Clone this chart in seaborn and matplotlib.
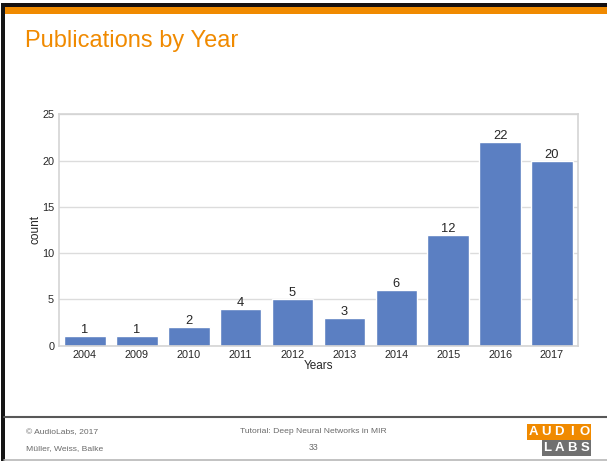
import matplotlib
matplotlib.use("Agg")
import matplotlib.pyplot as plt
from matplotlib.patches import Rectangle
from matplotlib.lines import Line2D
import seaborn as sns
import pandas as pd

# Publication counts per year
years = ["2004", "2009", "2010", "2011", "2012", "2013", "2014", "2015", "2016", "2017"]
counts = [1, 1, 2, 4, 5, 3, 6, 12, 22, 20]
y_ticks = [0, 5, 10, 15, 20, 25]

title = "Publications by Year"
footer_left = ["\u00a9 AudioLabs, 2017", "M\u00fcller, Weiss, Balke"]
footer_mid = ["Tutorial: Deep Neural Networks in MIR", "33"]

ORANGE = "#f08a00"
BAR = "#5b7fc2"

sns.set_theme(style="whitegrid")
plt.rcParams["font.family"] = ["Liberation Sans", "DejaVu Sans"]

W, H = 607, 461
fig = plt.figure(figsize=(W / 100, H / 100), dpi=100)


def fx(px):
    return px / W


def fy(py):
    return 1 - py / H


# slide frame: black rule, orange band, left border
fig.add_artist(Rectangle((fx(1.5), fy(7.3)), 1, fy(3.5) - fy(7.3),
                         transform=fig.transFigure, color="#151010", lw=0))
fig.add_artist(Rectangle((fx(1.5), fy(14)), 1, fy(7.3) - fy(14),
                         transform=fig.transFigure, color=ORANGE, lw=0))
fig.add_artist(Rectangle((fx(1.5), 0), fx(3.2), fy(3.5),
                         transform=fig.transFigure, color="#151515", lw=0))

fig.text(fx(25), fy(47.5), title, color=ORANGE, fontsize=17, va="baseline", ha="left")

# chart
ax = fig.add_axes([fx(59), fy(345.5), fx(578) - fx(59), fy(114.5) - fy(345.5)])
df = pd.DataFrame({"Years": years, "count": counts})
sns.barplot(data=df, x="Years", y="count", color=BAR, saturation=1, width=0.8, ax=ax)
ax.set_ylim(0, 25)
ax.set_yticks(y_ticks)
ax.set_xlim(-0.5, len(years) - 0.5)
ax.tick_params(axis="both", labelsize=7.8, colors="#262626", length=0)
ax.tick_params(axis="x", pad=3)
ax.tick_params(axis="y", pad=3.5)
ax.set_xlabel("Years", fontsize=8.5, color="#262626", labelpad=0)
ax.set_ylabel("count", fontsize=8.5, color="#262626", labelpad=0)
for s in ax.spines.values():
    s.set_color("#d4d4d4")
    s.set_linewidth(1.2)
ax.grid(axis="y", color="#dcdcdc", lw=1)
ax.grid(axis="x", visible=False)

for i, c in enumerate(counts):
    ax.annotate(str(c), (i, c), ha="center", va="bottom", fontsize=9.3, color="#262626")

# footer
fig.add_artist(Line2D([fx(4), 1], [fy(416.7)] * 2, transform=fig.transFigure,
                      color="#585858", lw=1.5))
fig.add_artist(Line2D([fx(4), 1], [fy(459.7)] * 2, transform=fig.transFigure,
                      color="#b8b8b8", lw=1.2))
fig.text(fx(26), fy(433), footer_left[0], fontsize=6.1, color="#6a6a6a", va="center")
fig.text(fx(26), fy(448.5), footer_left[1], fontsize=6.1, color="#6a6a6a", va="center")
fig.text(fx(313.5), fy(431.5), footer_mid[0], fontsize=6.1, color="#6a6a6a", va="center", ha="center")
fig.text(fx(313.5), fy(447.5), footer_mid[1], fontsize=6.3, color="#6a6a6a", va="center", ha="center")

# logo
fig.add_artist(Rectangle((fx(527), fy(440)), fx(591) - fx(527), fy(423.5) - fy(440),
                         transform=fig.transFigure, color=ORANGE, lw=0))
fig.add_artist(Rectangle((fx(541.5), fy(456)), fx(591) - fx(541.5), fy(440) - fy(456),
                         transform=fig.transFigure, color="#707070", lw=0))
for k, ch in enumerate("AUDIO"):
    fig.text(fx(533.6 + 12.7 * k), fy(432), ch, fontsize=9.5, fontweight="bold",
             color="white", ha="center", va="center")
for k, ch in enumerate("LABS"):
    fig.text(fx(547.5 + 12.4 * k), fy(448.2), ch, fontsize=9.5, fontweight="bold",
             color="white", ha="center", va="center")

fig.savefig("out.png", dpi=100)
